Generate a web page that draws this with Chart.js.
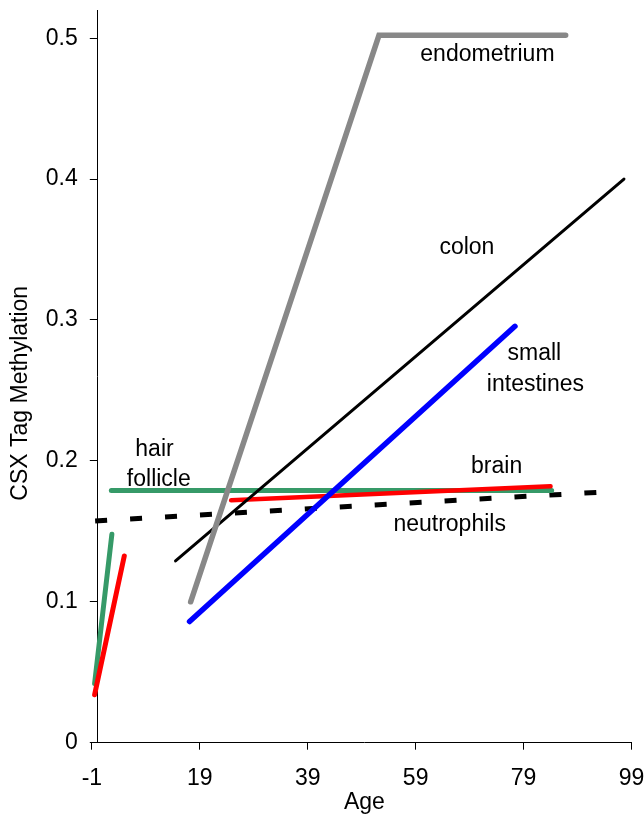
<!DOCTYPE html>
<html><head><meta charset="utf-8">
<style>html,body{margin:0;padding:0;background:#fff}#wrap{width:644px;height:814px;position:relative}</style>
<script src="https://cdn.jsdelivr.net/npm/chart.js@4.4.1/dist/chart.umd.min.js"></script>
</head><body><div id="wrap"><canvas id="c" width="644" height="814"></canvas></div>
<script>
const xTickValues = [-1, 19, 39, 59, 79, 99];
const yTickValues = [0, 0.1, 0.2, 0.3, 0.4, 0.5];

const endometriumAge = [17.3, 52.2, 86.8];
const endometriumVal = [0.100, 0.502, 0.502];
const colonAge = [14.5, 97.6];
const colonVal = [0.129, 0.400];
const smallIntestinesAge = [17.1, 77.4];
const smallIntestinesVal = [0.086, 0.2955];
const brainAge = [24.8, 84.0];
const brainVal = [0.172, 0.182];
const brainEarlyAge = [-0.5, 5.0];
const brainEarlyVal = [0.034, 0.1325];
const hairFollicleAge = [2.6, 84.2];
const hairFollicleVal = [0.179, 0.179];
const hairFollicleEarlyAge = [-0.5, 2.7];
const hairFollicleEarlyVal = [0.042, 0.148];
const neutrophilsAge = [-0.4, 93.2];
const neutrophilsVal = [0.1574, 0.1778];

const labelTexts = ['endometrium', 'colon', 'small', 'intestines', 'hair', 'follicle', 'brain', 'neutrophils'];
const labelAges = [72.3, 68.5, 81.0, 81.2, 10.6, 11.4, 74.0, 65.3];
const labelVals = [0.4835, 0.347, 0.2714, 0.2496, 0.2033, 0.182, 0.1915, 0.1504];

const xTitle = 'Age';
const yTitle = 'CSX Tag Methylation';
const yTitleAt = 0.248;

const FONT = '"Liberation Sans", Arial, Helvetica, sans-serif';

function pts(xs, ys) { return xs.map((v, i) => ({x: v, y: ys[i]})); }

function ds(label, xs, ys, color, width, extra) {
  return Object.assign({
    label, data: pts(xs, ys), showLine: true, borderColor: color, backgroundColor: color,
    borderWidth: width, pointRadius: 0, pointHoverRadius: 0, tension: 0,
    borderCapStyle: 'round', borderJoinStyle: 'miter', clip: false
  }, extra || {});
}

const textPlugin = {
  id: 'texts',
  afterDatasetsDraw(chart) {
    const {ctx, scales: {x, y}} = chart;
    ctx.save();
    ctx.font = '23px ' + FONT;
    ctx.fillStyle = '#000';
    ctx.textAlign = 'center';
    ctx.textBaseline = 'alphabetic';
    labelTexts.forEach((t, i) => {
      ctx.fillText(t, x.getPixelForValue(labelAges[i]), y.getPixelForValue(labelVals[i]));
    });
    ctx.translate(y.left + 27, y.getPixelForValue(yTitleAt));
    ctx.rotate(-Math.PI / 2);
    ctx.fillText(yTitle, 0, 0);
    ctx.restore();
  }
};

new Chart(document.getElementById('c'), {
  type: 'scatter',
  data: {
    datasets: [
      ds('endometrium', endometriumAge, endometriumVal, '#888888', 5.5),
      ds('colon', colonAge, colonVal, '#000000', 3),
      ds('small intestines', smallIntestinesAge, smallIntestinesVal, '#0000ff', 5.5),
      ds('brain', brainAge, brainVal, '#ff0000', 4.5),
      ds('brain early', brainEarlyAge, brainEarlyVal, '#ff0000', 5),
      ds('hair follicle', hairFollicleAge, hairFollicleVal, '#369a68', 5),
      ds('hair follicle early', hairFollicleEarlyAge, hairFollicleEarlyVal, '#369a68', 5),
      ds('neutrophils', neutrophilsAge, neutrophilsVal, '#000000', 5, {borderDash: [12, 23], borderCapStyle: 'butt'})
    ]
  },
  options: {
    responsive: false,
    devicePixelRatio: 1,
    animation: false,
    events: [],
    layout: {padding: {top: 10, right: 12.5, left: 0, bottom: 0}},
    plugins: {legend: {display: false}, tooltip: {enabled: false}},
    scales: {
      x: {
        type: 'linear', min: 0, max: 99,
        afterBuildTicks: (s) => { s.ticks = xTickValues.map(v => ({value: v})); },
        afterFit: (s) => { s.height = 71.3; s.paddingLeft = 0; s.paddingRight = 0; },
        grid: {drawOnChartArea: false, drawTicks: true, tickLength: 7, color: '#000', lineWidth: 1},
        border: {display: true, color: '#000', width: 1},
        ticks: {font: {family: FONT, size: 23}, color: '#000', padding: 15, maxRotation: 0, autoSkip: false,
                callback: (v) => String(v)},
        title: {display: true, text: xTitle, font: {family: FONT, size: 23, lineHeight: 1}, color: '#000', padding: 0}
      },
      y: {
        type: 'linear', min: 0, max: 0.52,
        afterBuildTicks: (s) => { s.ticks = yTickValues.map(v => ({value: v})); },
        afterFit: (s) => { s.width = 97.3; s.paddingTop = 0; s.paddingBottom = 0; },
        grid: {drawOnChartArea: false, drawTicks: true, tickLength: 7.5, color: '#000', lineWidth: 1},
        border: {display: true, color: '#000', width: 1},
        ticks: {font: {family: FONT, size: 23}, color: '#000', padding: 12, autoSkip: false,
                callback: (v) => v === 0 ? '0' : v.toFixed(1)}
      }
    }
  },
  plugins: [textPlugin]
});
</script>
</body></html>
